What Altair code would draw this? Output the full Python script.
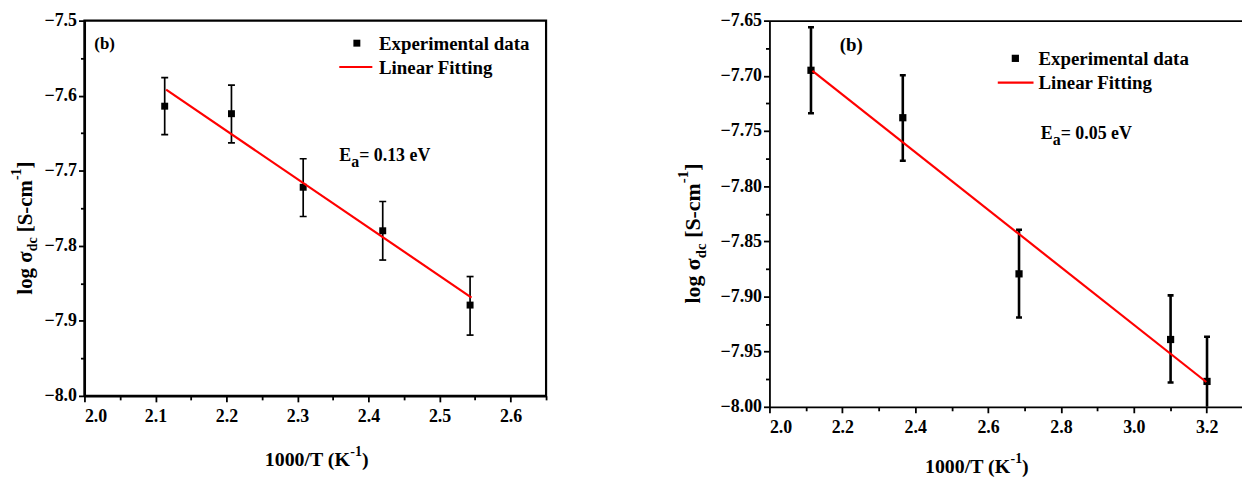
import altair as alt
import pandas as pd

# ---------------- data ----------------
left_x = [2.113, 2.207, 2.308, 2.420, 2.543]
left_y = [-7.614, -7.624, -7.722, -7.780, -7.879]
left_lo = [-7.652, -7.663, -7.761, -7.819, -7.919]
left_hi = [-7.576, -7.586, -7.684, -7.741, -7.841]
left_fit_x = [2.115, 2.545]
left_fit_y = [-7.592, -7.869]

right_x = [2.114, 2.366, 2.685, 3.101, 3.201]
right_y = [-7.695, -7.738, -7.8795, -7.939, -7.977]
right_lo = [-7.734, -7.777, -7.919, -7.978, -8.017]
right_hi = [-7.656, -7.6995, -7.8396, -7.899, -7.9365]
right_fit_x = [2.118, 3.199]
right_fit_y = [-7.6956, -7.9775]

left_x_ticks = [2.0, 2.05, 2.1, 2.15, 2.2, 2.25, 2.3, 2.35, 2.4, 2.45, 2.5, 2.55, 2.6, 2.65]
left_y_ticks = [-8.0, -7.95, -7.9, -7.85, -7.8, -7.75, -7.7, -7.65, -7.6, -7.55, -7.5]
right_x_ticks = [2.0, 2.1, 2.2, 2.3, 2.4, 2.5, 2.6, 2.7, 2.8, 2.9, 3.0, 3.1, 3.2]
right_y_ticks = [-8.0, -7.975, -7.95, -7.925, -7.9, -7.875, -7.85, -7.825, -7.8,
                 -7.775, -7.75, -7.725, -7.7, -7.675, -7.65]

legend_labels = ["Experimental data", "Linear Fitting"]

FONT = "Liberation Serif"

# Times-bold-like advance widths (per 1000 em) for piecing sub/superscripts
W = {' ': 250, '(': 333, ')': 333, '[': 333, ']': 333, '-': 333, '/': 278, '.': 250,
     '=': 570, 'E': 667, 'K': 778, 'S': 556, 'T': 667, 'V': 722, 'a': 500, 'c': 444,
     'd': 556, 'e': 444, 'g': 500, 'l': 278, 'm': 833, 'o': 500, 'σ': 550}
for ch in "0123456789":
    W[ch] = 500


def tw(s, size):
    return sum(W.get(c, 500) for c in s) * size / 1000.0


def one():
    return alt.Data(values=[{}])


def pieces(parts, x, y, angle=None):
    layers = []
    off = 0.0
    for txt, size, shift in parts:
        lead = len(txt) - len(txt.lstrip(' '))
        off += lead * W[' '] * size / 1000.0
        t = txt.lstrip(' ')
        kw = dict(text=t, align='left', baseline='alphabetic', font=FONT,
                  fontWeight='bold', fontSize=size, color='black', dx=off, dy=shift)
        if angle:
            kw['angle'] = angle
        layers.append(alt.Chart(one()).mark_text(**kw).encode(x=alt.value(x), y=alt.value(y)))
        off += tw(t, size)
    return layers


def label(txt, x, y, size):
    return alt.Chart(one()).mark_text(text=txt, align='left', baseline='alphabetic', font=FONT,
                                      fontWeight='bold', fontSize=size, color='black'
                                      ).encode(x=alt.value(x), y=alt.value(y))


def axis(values, fmt, mult, orient, dw, tkw, pad):
    test = f"abs(datum.value*{mult} - round(datum.value*{mult})) < 0.001"
    return alt.Axis(values=values, format=fmt, orient=orient, grid=False,
                    labelExpr=f"{test} ? datum.label : ''",
                    tickSize={"condition": {"test": test, "value": 6}, "value": 4},
                    labelFont=FONT, labelFontWeight='bold', labelFontSize=18,
                    labelColor='black', domainColor='black', domainWidth=dw,
                    tickColor='black', tickWidth=tkw, labelPadding=pad)


def panel(xs, ys, lo, hi, fx, fy, xdom, ydom, xax, yax, bar_w, cap, sq, top_axis,
          width, height):
    df = pd.DataFrame({'x': xs, 'y': ys, 'lo': lo, 'hi': hi})
    fit = pd.DataFrame({'x': fx, 'y': fy})
    xs_ = alt.Scale(domain=xdom, nice=False, zero=False)
    ys_ = alt.Scale(domain=ydom, nice=False, zero=False)
    base = alt.Chart(df)
    bars = base.mark_rule(color='black', strokeWidth=bar_w, clip=True).encode(
        x=alt.X('x:Q', scale=xs_, axis=xax, title=None),
        y=alt.Y('lo:Q', scale=ys_, axis=yax, title=None),
        y2='hi:Q')
    cap_lo = base.mark_tick(color='black', orient='horizontal', size=cap, thickness=bar_w,
                            opacity=1, clip=True).encode(
        x=alt.X('x:Q', scale=xs_, axis=None), y=alt.Y('lo:Q', scale=ys_, axis=None))
    cap_hi = base.mark_tick(color='black', orient='horizontal', size=cap, thickness=bar_w,
                            opacity=1, clip=True).encode(
        x=alt.X('x:Q', scale=xs_, axis=None), y=alt.Y('hi:Q', scale=ys_, axis=None))
    pts = base.mark_square(color='black', size=sq, opacity=1, filled=True).encode(
        x=alt.X('x:Q', scale=xs_, axis=None), y=alt.Y('y:Q', scale=ys_, axis=None))
    if top_axis:
        fx_axis = alt.Axis(orient='top', labels=False, ticks=False, domainColor='black',
                           domainWidth=1.8, grid=False)
    else:
        fx_axis = None
    line = alt.Chart(fit).mark_line(color='#ff0000', strokeWidth=2.2).encode(
        x=alt.X('x:Q', scale=xs_, axis=fx_axis, title=None),
        y=alt.Y('y:Q', scale=ys_, axis=None))
    return [bars, cap_lo, cap_hi, pts, line]


# ---------------- left panel ----------------
LW, LH = 465, 378
left_layers = panel(
    left_x, left_y, left_lo, left_hi, left_fit_x, left_fit_y,
    [2.0, 2.65], [-8.0, -7.5],
    axis(left_x_ticks, '.1f', 10, 'bottom', 2.2, 1.8, 6),
    axis(left_y_ticks, '.1f', 10, 'left', 2.2, 1.8, 2),
    1.7, 7, 49, False, LW, LH)

left_layers += [
    label("(b)", 10, 28.7, 17),
    alt.Chart(one()).mark_square(color='black', size=49, opacity=1).encode(
        x=alt.value(274.4), y=alt.value(22.7)),
    label(legend_labels[0], 296.7, 29.4, 19),
    alt.Chart(one()).mark_rule(color='#ff0000', strokeWidth=2.2).encode(
        x=alt.value(256.7), x2=alt.value(290), y=alt.value(46.7)),
    label(legend_labels[1], 296.7, 53.4, 19),
]
left_layers += pieces([("E", 18, 0), ("a", 16, 6), ("= 0.13 eV", 18, 0)], 256.7, 141)
left_layers += pieces([("log σ", 21, 0), ("dc", 14, 6), (" [S-cm", 21, 0),
                       ("-1", 14, -11), ("]", 21, 0)], -53.3, 276, angle=270)
left_layers += pieces([("1000/T (K", 20, 0), ("-1", 14, -10), (")", 20, 0)], 181.7, 448.7)

left = alt.layer(*left_layers).resolve_axis(x='independent', y='independent').properties(
    width=LW, height=LH,
    view=alt.ViewBackground(stroke='black', strokeWidth=2.2))

# ---------------- right panel ----------------
RW, RH = 476, 389
right_layers = panel(
    right_x, right_y, right_lo, right_hi, right_fit_x, right_fit_y,
    [2.0, 3.297], [-8.0, -7.65],
    axis(right_x_ticks, '.1f', 5, 'bottom', 1.8, 1.8, 6),
    axis(right_y_ticks, '.2f', 20, 'left', 1.8, 1.8, 2),
    2.6, 6, 53, True, RW, RH)

right_layers += [
    label("(b)", 70.7, 30.7, 19),
    alt.Chart(one()).mark_square(color='black', size=53, opacity=1).encode(
        x=alt.value(247.7), y=alt.value(38)),
    label(legend_labels[0], 271, 44.7, 19),
    alt.Chart(one()).mark_rule(color='#ff0000', strokeWidth=2.2).encode(
        x=alt.value(230), x2=alt.value(266), y=alt.value(62.4)),
    label(legend_labels[1], 271, 69, 19),
]
right_layers += pieces([("E", 18, 0), ("a", 16, 6), ("= 0.05 eV", 18, 0)], 273.4, 119)
right_layers += pieces([("log σ", 22, 0), ("dc", 15, 6), (" [S-cm", 22, 0),
                        ("-1", 15, -12), ("]", 22, 0)], -70, 285, angle=270)
right_layers += pieces([("1000/T (K", 20, 0), ("-1", 14, -10), (")", 20, 0)], 156.7, 455.7)

right = alt.layer(*right_layers).resolve_axis(x='independent', y='independent').properties(
    width=RW, height=RH,
    view=alt.ViewBackground(strokeOpacity=0))

chart = alt.hconcat(left, right, spacing=129).properties(
    padding={"left": 0, "top": 0, "right": 0, "bottom": 0},
    background='white')

chart.save("out.html", embed_options={"renderer": "svg", "actions": False})
